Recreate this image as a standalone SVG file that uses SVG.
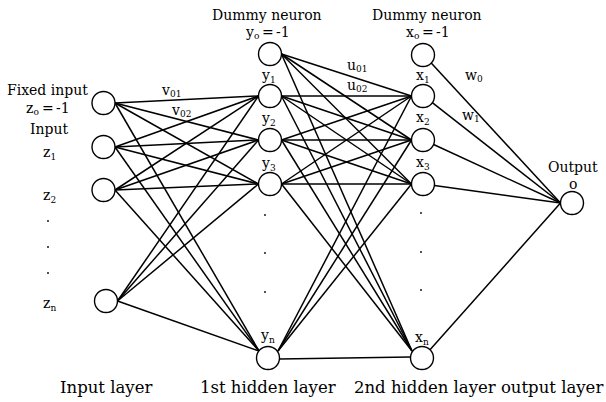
<svg xmlns="http://www.w3.org/2000/svg" width="606" height="402" viewBox="0 0 606 402">
<style>
.t{font-family:"DejaVu Serif","Liberation Serif",serif;font-size:14px;fill:#000}
.b{font-family:"DejaVu Serif","Liberation Serif",serif;font-size:16.5px;fill:#000}
.s{font-size:9px}
.n circle{fill:#fff;stroke:#000;stroke-width:1.4}
#connectors line{stroke:#000;stroke-width:1.5}
.dot{fill:#000}
</style>
<rect width="606" height="402" fill="#fff"/>
<g id="connectors">
<line x1="115" y1="103" x2="258.5" y2="96"/>
<line x1="115" y1="103" x2="258.5" y2="140"/>
<line x1="115" y1="103" x2="258.5" y2="184"/>
<line x1="115" y1="103" x2="259" y2="351"/>
<line x1="115" y1="147" x2="258.5" y2="96"/>
<line x1="115" y1="147" x2="258.5" y2="140"/>
<line x1="115" y1="147" x2="258.5" y2="184"/>
<line x1="115" y1="147" x2="259" y2="351"/>
<line x1="115" y1="190" x2="258.5" y2="96"/>
<line x1="115" y1="190" x2="258.5" y2="140"/>
<line x1="115" y1="190" x2="258.5" y2="184"/>
<line x1="115" y1="190" x2="259" y2="351"/>
<line x1="117.5" y1="301" x2="258.5" y2="96"/>
<line x1="117.5" y1="301" x2="258.5" y2="140"/>
<line x1="117.5" y1="301" x2="258.5" y2="184"/>
<line x1="117.5" y1="301" x2="259" y2="351"/>
<line x1="281.5" y1="54" x2="411.5" y2="96"/>
<line x1="281.5" y1="54" x2="411.5" y2="140"/>
<line x1="281.5" y1="54" x2="411.5" y2="184"/>
<line x1="281.5" y1="54" x2="412" y2="351"/>
<line x1="281.5" y1="96" x2="411.5" y2="96"/>
<line x1="281.5" y1="96" x2="411.5" y2="140"/>
<line x1="281.5" y1="96" x2="411.5" y2="184"/>
<line x1="281.5" y1="96" x2="412" y2="351"/>
<line x1="281.5" y1="140" x2="411.5" y2="96"/>
<line x1="281.5" y1="140" x2="411.5" y2="140"/>
<line x1="281.5" y1="140" x2="411.5" y2="184"/>
<line x1="281.5" y1="140" x2="412" y2="351"/>
<line x1="281.5" y1="184" x2="411.5" y2="96"/>
<line x1="281.5" y1="184" x2="411.5" y2="140"/>
<line x1="281.5" y1="184" x2="411.5" y2="184"/>
<line x1="281.5" y1="184" x2="412" y2="351"/>
<line x1="278" y1="351" x2="411.5" y2="96"/>
<line x1="278" y1="351" x2="411.5" y2="140"/>
<line x1="278" y1="351" x2="411.5" y2="184"/>
<line x1="279.5" y1="359" x2="410.5" y2="357"/>
<line x1="431.2" y1="63.1" x2="560.5" y2="203"/>
<line x1="432.3" y1="102.7" x2="560.5" y2="203"/>
<line x1="433.6" y1="144.5" x2="560.5" y2="203"/>
<line x1="434.4" y1="185.5" x2="560.5" y2="203"/>
<line x1="430" y1="349.7" x2="560.5" y2="203"/>
</g>
<g id="z0" class="n"><circle cx="103.5" cy="103" r="11.5"/><text class="t" x="7" y="95">Fixed input</text><text class="t" x="26" y="113">z<tspan class="s" dy="2">o</tspan><tspan dy="-2" x="42">=</tspan><tspan x="56">-1</tspan></text></g>
<g id="z1" class="n"><circle cx="103.5" cy="147" r="11.5"/><text class="t" x="30" y="134">Input</text><text class="t" x="43" y="157">z<tspan class="s" dy="3">1</tspan></text></g>
<g id="z2" class="n"><circle cx="103.5" cy="190" r="11.5"/><text class="t" x="43" y="200">z<tspan class="s" dy="3">2</tspan></text></g>
<g id="zdots"><circle class="dot" cx="48" cy="221" r="0.9"/><circle class="dot" cx="48" cy="247" r="0.9"/><circle class="dot" cx="48" cy="273" r="0.9"/></g>
<g id="zn" class="n"><circle cx="106" cy="301" r="11.5"/><text class="t" x="43" y="308">z<tspan class="s" dy="3">n</tspan></text></g>
<g id="y0" class="n"><circle cx="270" cy="54" r="11.5"/><text class="t" x="212" y="20">Dummy neuron</text><text class="t" x="246" y="37">y<tspan class="s" dy="2">o</tspan><tspan dy="-2" x="262">=</tspan><tspan x="276">-1</tspan></text></g>
<g id="y1" class="n"><circle cx="270" cy="96" r="11.5"/><text class="t" x="262" y="80">y<tspan class="s" dy="3">1</tspan></text></g>
<g id="y2" class="n"><circle cx="270" cy="140" r="11.5"/><text class="t" x="262" y="123">y<tspan class="s" dy="3">2</tspan></text></g>
<g id="y3" class="n"><circle cx="270" cy="184" r="11.5"/><text class="t" x="262" y="168">y<tspan class="s" dy="3">3</tspan></text></g>
<g id="ydots"><circle class="dot" cx="265" cy="215" r="0.9"/><circle class="dot" cx="265" cy="253" r="0.9"/><circle class="dot" cx="265" cy="292" r="0.9"/></g>
<g id="yn" class="n"><circle cx="268" cy="358" r="11.5"/><text class="t" x="261" y="340">y<tspan class="s" dy="3">n</tspan></text></g>
<g id="x0" class="n"><circle cx="423" cy="55" r="11.5"/><text class="t" x="372" y="20">Dummy neuron</text><text class="t" x="406" y="37">x<tspan class="s" dy="2">o</tspan><tspan dy="-2" x="422">=</tspan><tspan x="436">-1</tspan></text></g>
<g id="x1" class="n"><circle cx="423" cy="96" r="11.5"/><text class="t" x="416" y="80">x<tspan class="s" dy="3">1</tspan></text></g>
<g id="x2" class="n"><circle cx="423" cy="140" r="11.5"/><text class="t" x="416" y="122">x<tspan class="s" dy="3">2</tspan></text></g>
<g id="x3" class="n"><circle cx="423" cy="184" r="11.5"/><text class="t" x="416" y="167">x<tspan class="s" dy="3">3</tspan></text></g>
<g id="xdots"><circle class="dot" cx="421" cy="213" r="0.9"/><circle class="dot" cx="421" cy="252" r="0.9"/><circle class="dot" cx="421" cy="290" r="0.9"/></g>
<g id="xn" class="n"><circle cx="422" cy="358" r="11.5"/><text class="t" x="415" y="342">x<tspan class="s" dy="3">n</tspan></text></g>
<g id="out" class="n"><circle cx="572" cy="203" r="11.5"/><text class="t" x="548" y="172">Output</text><text class="t" x="569" y="189">o</text></g>
<g id="weights">
<text class="t" x="162" y="95">v<tspan class="s" dy="2">01</tspan></text>
<text class="t" x="172" y="115">v<tspan class="s" dy="2">02</tspan></text>
<text class="t" x="347" y="70">u<tspan class="s" dy="2">01</tspan></text>
<text class="t" x="347" y="90">u<tspan class="s" dy="2">02</tspan></text>
<text class="t" x="465" y="80">w<tspan class="s" dy="2">0</tspan></text>
<text class="t" x="462" y="120">w<tspan class="s" dy="2">1</tspan></text>
</g>
<g id="layers">
<text class="b" x="60" y="393">Input layer</text>
<text class="b" x="200" y="393">1st hidden layer</text>
<text class="b" x="354" y="393">2nd hidden layer output layer</text>
</g>
</svg>
